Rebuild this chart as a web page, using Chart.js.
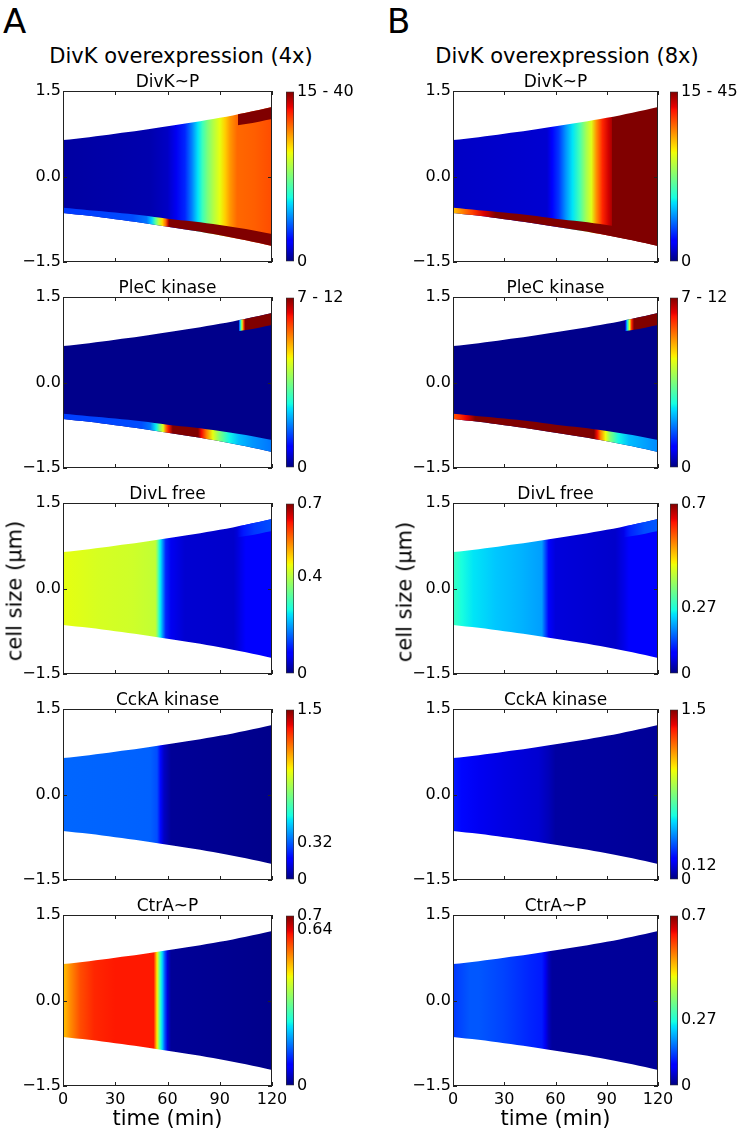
<!DOCTYPE html>
<html>
<head>
<meta charset="utf-8">
<script src="https://cdn.jsdelivr.net/npm/chart.js@4.4.1/dist/chart.umd.min.js"></script>
<style>
body{margin:0;background:#fff;width:744px;height:1133px;position:relative;overflow:hidden;font-family:"DejaVu Sans",sans-serif;}
canvas{position:absolute;}
.txt{position:absolute;white-space:nowrap;line-height:1;color:#000;}
</style>
</head>
<body>
<script>
// time (min) and cell outline (µm), same growth in every panel
const timeGrid = [0, 15, 30, 45, 60, 75, 90, 105, 120];
const cellHalf = [0.64, 0.69, 0.75, 0.81, 0.88, 0.95, 1.03, 1.12, 1.22];
const poleInner = [0.55, 0.59, 0.63, 0.68, 0.74, 0.79, 0.85, 0.92, 1.01];
const xTicks = [0, 30, 60, 90, 120];
const yTicks = [-1.5, 0, 1.5];

const columnTitles = ['DivK overexpression (4x)', 'DivK overexpression (8x)'];
const panelTitles = ['DivK~P', 'PleC kinase', 'DivL free', 'CckA kinase', 'CtrA~P'];

// colour level along time as [t, level], level 0 = bottom of the colour bar, 1 = top
// body = cell middle, top/bot = pole strips (null = no strip)
const a1Body = [[0,0.03],[50,0.04],[60,0.06],[65,0.1],[70,0.16],[74,0.25],[77.5,0.35],[80,0.42],[83,0.5],[86.5,0.57],[90,0.63],[93,0.69],[96,0.75],[100,0.8],[110,0.81],[120,0.83]];
const a1Top = [[100.6,null],[100.7,1],[120,1]];
const a1Bot = [[0,0.18],[40,0.2],[48,0.24],[51,0.33],[53,0.45],[55,0.58],[57,0.68],[59,0.8],[60.5,0.95],[61,1],[120,1]];
const a1Bar = [[0,'0'],[15,'15 - 40']];

const b1Body = [[0,0.06],[55,0.07],[58,0.11],[62,0.18],[66,0.27],[70,0.35],[74,0.43],[78,0.55],[81,0.62],[84,0.76],[87.5,0.87],[91,0.93],[92.8,0.96],[93,1],[120,1]];
const b1Top = [];
const b1Bot = [[0,0.7],[5,0.77],[11,0.84],[18,0.92],[25,1],[120,1]];
const b1Bar = [[0,'0'],[15,'15 - 45']];

const a2Body = [[0,0.01],[120,0.01]];
const a2Top = [[100.9,null],[101,0.15],[101.8,0.35],[102.8,0.6],[103.8,0.85],[104.6,1],[120,1]];
const a2Bot = [[0,0.185],[45,0.2],[50,0.24],[53.5,0.36],[55.5,0.5],[57.5,0.62],[59,0.78],[60.5,0.88],[63,1],[77.5,1],[79.5,0.9],[82.5,0.77],[86,0.63],[90,0.5],[95.5,0.37],[101,0.31],[109,0.27],[120,0.24]];
const a2Bar = [[0,'0'],[7,'7 - 12']];

const b2Body = [[0,0.01],[120,0.01]];
const b2Top = [[100.9,null],[101,0.15],[102,0.35],[103.4,0.62],[104.6,0.88],[106,1],[120,1]];
const b2Bot = [[0,0.82],[4,0.86],[8,0.91],[13,1],[82.5,1],[84.4,0.9],[86.4,0.77],[89.3,0.64],[92.2,0.5],[97,0.37],[103,0.31],[110,0.29],[120,0.26]];
const b2Bar = [[0,'0'],[7,'7 - 12']];

const a3Body = [[0,0.63],[20,0.61],[40,0.6],[53,0.585],[54,0.52],[55,0.42],[56,0.35],[57.5,0.25],[59,0.16],[62,0.1],[70,0.07],[98,0.065],[102,0.09],[105,0.12],[120,0.125]];
const a3Top = [[100,null],[104,0.15],[110,0.18],[120,0.2]];
const a3Bar = [[0,'0'],[0.4,'0.4'],[0.7,'0.7']];

const b3Body = [[0,0.42],[5,0.38],[12,0.35],[25,0.32],[40,0.3],[52,0.28],[54,0.2],[56,0.12],[60,0.08],[95,0.065],[100,0.09],[103,0.12],[120,0.125]];
const b3Top = [[100,null],[104,0.16],[112,0.2],[120,0.21]];
const b3Bar = [[0,'0'],[0.27,'0.27'],[0.7,'0.7']];

const a4Body = [[0,0.225],[50,0.22],[54,0.2],[56,0.13],[58,0.06],[62,0.02],[120,0.01]];
const a4Bar = [[0,'0'],[0.32,'0.32'],[1.5,'1.5']];

const b4Body = [[0,0.15],[5,0.13],[15,0.1],[30,0.085],[50,0.07],[56,0.05],[60,0.03],[120,0.02]];
const b4Bar = [[0,'0'],[0.12,'0.12'],[1.5,'1.5']];

const a5Body = [[0,0.7],[4,0.76],[10,0.83],[18,0.87],[30,0.885],[52,0.885],[53,0.78],[54,0.66],[55,0.52],[56,0.4],[57,0.33],[58.5,0.2],[60,0.08],[62,0.02],[120,0.01]];
const a5Bar = [[0,'0'],[0.64,'0.64'],[0.7,'0.7']];

const b5Body = [[0,0.18],[10,0.21],[15,0.21],[30,0.19],[45,0.16],[52,0.15],[54,0.1],[56,0.05],[58,0.025],[120,0.02]];
const b5Bar = [[0,'0'],[0.27,'0.27'],[0.7,'0.7']];

const panels = [
  {col: 0, row: 0, body: a1Body, top: a1Top, bot: a1Bot, bar: a1Bar},
  {col: 1, row: 0, body: b1Body, top: b1Top, bot: b1Bot, bar: b1Bar},
  {col: 0, row: 1, body: a2Body, top: a2Top, bot: a2Bot, bar: a2Bar},
  {col: 1, row: 1, body: b2Body, top: b2Top, bot: b2Bot, bar: b2Bar},
  {col: 0, row: 2, body: a3Body, top: a3Top, bot: [], bar: a3Bar},
  {col: 1, row: 2, body: b3Body, top: b3Top, bot: [], bar: b3Bar},
  {col: 0, row: 3, body: a4Body, top: [], bot: [], bar: a4Bar},
  {col: 1, row: 3, body: b4Body, top: [], bot: [], bar: b4Bar},
  {col: 0, row: 4, body: a5Body, top: [], bot: [], bar: a5Bar},
  {col: 1, row: 4, body: b5Body, top: [], bot: [], bar: b5Bar}
];

// layout (px)
const cols = [
  {canvasLeft: 0, plotLeft: 63, plotRight: 272, barCanvas: 280, letter: 'A', letterX: 3, titleX: 181},
  {canvasLeft: 400, plotLeft: 453, plotRight: 658, barCanvas: 664, letter: 'B', letterX: 387, titleX: 567}
];
const rowTops = [91, 297, 503, 709, 915];
const plotH = 171;
const font = {family: 'DejaVu Sans', size: 16};

// matplotlib jet
const jetR = [[0,0],[0.35,0],[0.66,1],[0.89,1],[1,0.5]];
const jetG = [[0,0],[0.125,0],[0.375,1],[0.64,1],[0.91,0],[1,0]];
const jetB = [[0,0.5],[0.11,1],[0.34,1],[0.65,0],[1,0]];
function seg(s, v) {
  for (let i = 1; i < s.length; i++) {
    if (v <= s[i][0]) {
      const [a, ya] = s[i - 1], [b, yb] = s[i];
      return ya + (yb - ya) * (v - a) / (b - a);
    }
  }
  return s[s.length - 1][1];
}
function jet(v, alpha) {
  v = Math.max(0, Math.min(1, v));
  const r = Math.round(255 * seg(jetR, v)), g = Math.round(255 * seg(jetG, v)), b = Math.round(255 * seg(jetB, v));
  return `rgba(${r},${g},${b},${alpha === undefined ? 1 : alpha})`;
}

// horizontal gradient along the time axis, built from the chart's x scale
function timeGradient(chart, stops) {
  const {ctx, chartArea, scales} = chart;
  if (!chartArea || !stops.length) return 'rgba(0,0,0,0)';
  const x = scales.x;
  const x0 = x.getPixelForValue(0), x1 = x.getPixelForValue(120);
  const g = ctx.createLinearGradient(x0, 0, x1, 0);
  stops.forEach(([t, v], i) => {
    const off = Math.min(1, Math.max(0, (x.getPixelForValue(t) - x0) / (x1 - x0)));
    if (v === null) {
      // no strip: same colour as the neighbouring stop, fully transparent
      const near = stops.slice(i).find(s => s[1] !== null) || stops.slice(0, i).reverse().find(s => s[1] !== null);
      g.addColorStop(off, near ? jet(near[1], 0) : 'rgba(0,0,0,0)');
    } else {
      g.addColorStop(off, jet(v));
    }
  });
  return g;
}

// frame with inward ticks like the original
const framePlugin = {
  id: 'frame',
  afterDatasetsDraw(chart) {
    const {ctx, chartArea: a, scales: {x, y}} = chart;
    ctx.save();
    ctx.strokeStyle = '#222';
    ctx.lineWidth = 1;
    ctx.strokeRect(a.left + 0.5, a.top + 0.5, a.right - a.left - 1, a.bottom - a.top - 1);
    ctx.beginPath();
    x.ticks.forEach(tk => {
      const px = Math.round(x.getPixelForValue(tk.value)) + 0.5;
      ctx.moveTo(px, a.top); ctx.lineTo(px, a.top + 4);
      ctx.moveTo(px, a.bottom); ctx.lineTo(px, a.bottom - 4);
    });
    y.ticks.forEach(tk => {
      const py = Math.round(y.getPixelForValue(tk.value)) + 0.5;
      ctx.moveTo(a.left, py); ctx.lineTo(a.left + 4, py);
      ctx.moveTo(a.right, py); ctx.lineTo(a.right - 4, py);
    });
    ctx.stroke();
    ctx.restore();
  }
};

function addText(str, x, baseline, size, center) {
  const d = document.createElement('div');
  d.className = 'txt';
  d.textContent = str;
  d.style.fontSize = size + 'px';
  d.style.left = x + 'px';
  d.style.top = (baseline - 0.846 * size) + 'px';
  if (center) d.style.transform = 'translateX(-50%)';
  document.body.appendChild(d);
}

function addRotated(str, cx, cy, size) {
  const d = document.createElement('div');
  d.className = 'txt';
  d.textContent = str;
  d.style.fontSize = size + 'px';
  d.style.left = cx + 'px';
  d.style.top = cy + 'px';
  d.style.transform = 'translate(-50%,-50%) rotate(-90deg)';
  document.body.appendChild(d);
}

function makeCanvas(left, top, w, h) {
  const cv = document.createElement('canvas');
  cv.width = w; cv.height = h;
  cv.style.left = left + 'px'; cv.style.top = top + 'px';
  cv.style.width = w + 'px'; cv.style.height = h + 'px';
  document.body.appendChild(cv);
  return cv;
}

const pts = (arr, sign) => timeGrid.map((t, i) => ({x: t, y: sign * arr[i]}));

function lineSet(data, fill, stops) {
  return {
    data, fill,
    backgroundColor: stops ? (c => timeGradient(c.chart, stops)) : 'rgba(0,0,0,0)',
    borderColor: 'rgba(0,0,0,0)', borderWidth: 0, pointRadius: 0, tension: 0.35
  };
}

function drawPanel(p) {
  const c = cols[p.col];
  const top = rowTops[p.row];
  const last = p.row === rowTops.length - 1;
  const w = c.plotRight + 20 - c.canvasLeft;
  const h = 12 + plotH + (last ? 25 : 12);
  const cv = makeCanvas(c.canvasLeft, top - 12, w, h);
  new Chart(cv, {
    type: 'line',
    data: {
      datasets: [
        lineSet(pts(cellHalf, 1), 1, p.top),
        lineSet(pts(poleInner, 1), false),
        lineSet(pts(cellHalf, -1), 3, p.bot),
        lineSet(pts(poleInner, -1), false),
        lineSet(pts(cellHalf, 1), 5, p.body),
        lineSet(pts(cellHalf, -1), false)
      ]
    },
    options: {
      responsive: false,
      animation: false,
      devicePixelRatio: 1,
      layout: {padding: {left: 0, right: 20, top: 12, bottom: last ? 0 : 12}},
      plugins: {legend: {display: false}, tooltip: {enabled: false}},
      scales: {
        x: {
          type: 'linear', min: 0, max: 120,
          grid: {display: false, drawTicks: false}, border: {display: false},
          afterBuildTicks: s => { s.ticks = xTicks.map(v => ({value: v})); },
          afterFit: s => { s.height = last ? 25 : 0; },
          ticks: {display: last, font, color: '#000', padding: 4, maxRotation: 0, autoSkip: false}
        },
        y: {
          type: 'linear', min: -1.5, max: 1.5,
          grid: {display: false, drawTicks: false}, border: {display: false},
          afterBuildTicks: s => { s.ticks = yTicks.map(v => ({value: v})); },
          afterFit: s => { s.width = c.plotLeft - c.canvasLeft; },
          ticks: {
            font, color: '#000', padding: 2, autoSkip: false,
            callback: v => v === 0 ? '0.0' : (v < 0 ? '\u2212' : '') + Math.abs(v).toFixed(1)
          }
        }
      }
    },
    plugins: [framePlugin]
  });
}

// vertical jet gradient for the colour bars
const jetBreaks = [0, 0.11, 0.125, 0.34, 0.35, 0.375, 0.64, 0.65, 0.66, 0.89, 0.91, 1];
function barGradient(chart) {
  const {ctx, chartArea} = chart;
  if (!chartArea) return 'rgba(0,0,0,0)';
  const g = ctx.createLinearGradient(0, chartArea.bottom, 0, chartArea.top);
  jetBreaks.forEach(v => g.addColorStop(v, jet(v)));
  return g;
}

function drawBar(p) {
  const c = cols[p.col];
  const top = rowTops[p.row];
  const maxVal = p.bar[p.bar.length - 1][0];
  const cv = makeCanvas(c.barCanvas, top - 12, 80, plotH + 24);
  new Chart(cv, {
    type: 'bar',
    data: {
      labels: [''],
      datasets: [{
        data: [[0, maxVal]],
        backgroundColor: ctx => barGradient(ctx.chart),
        borderColor: '#333', borderWidth: 1, borderSkipped: false,
        barPercentage: 1, categoryPercentage: 1
      }]
    },
    options: {
      responsive: false,
      animation: false,
      devicePixelRatio: 1,
      layout: {padding: {left: 6, right: 0, top: 12, bottom: 12}},
      plugins: {legend: {display: false}, tooltip: {enabled: false}},
      scales: {
        x: {display: false},
        y: {
          position: 'right', min: 0, max: maxVal,
          grid: {display: false, drawTicks: false}, border: {display: false},
          afterBuildTicks: s => { s.ticks = p.bar.map(b => ({value: b[0]})); },
          afterFit: s => { s.width = 66; },
          ticks: {font, color: '#000', padding: 3, autoSkip: false, callback: (v, i) => p.bar[i][1]}
        }
      }
    }
  });
}

panels.forEach(p => { drawPanel(p); drawBar(p); });

// text
cols.forEach((c, i) => {
  addText(c.letter, c.letterX, 33, 34, false);
  addText(columnTitles[i], c.titleX, 63.3, 21, true);
  const mid = (c.plotLeft + c.plotRight) / 2;
  rowTops.forEach((t, r) => addText(panelTitles[r], mid, t - 4, 17, true));
  addText('time (min)', mid, 1126, 21, true);
});
addRotated('cell size (\u00b5m)', 15, 591, 21);
addRotated('cell size (\u00b5m)', 404.5, 591.5, 21);
</script>
</body>
</html>
